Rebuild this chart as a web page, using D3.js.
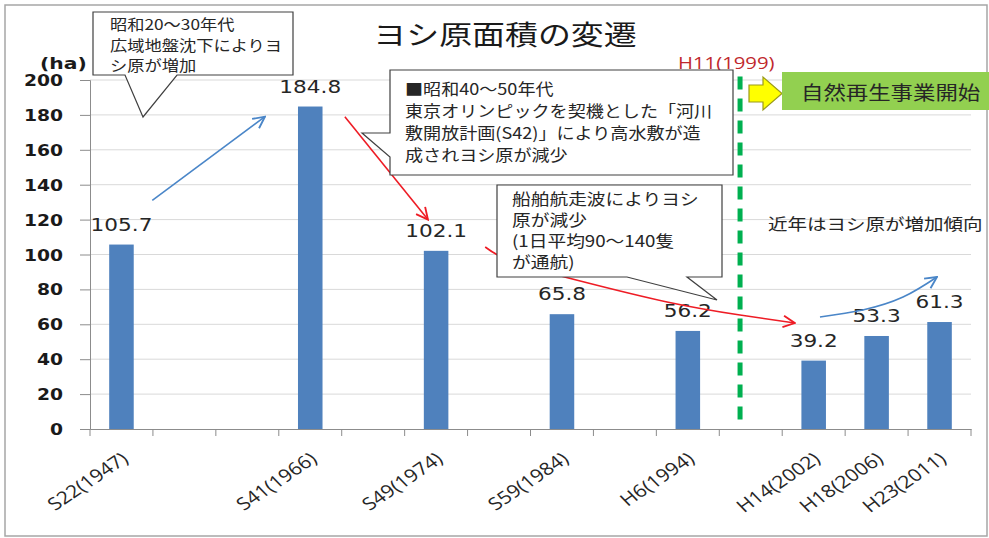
<!DOCTYPE html>
<html>
<head>
<meta charset="utf-8">
<script src="https://cdn.jsdelivr.net/npm/d3@7"></script>
<style>
html,body{margin:0;padding:0;background:#fff;}
svg{display:block;}
</style>
</head>
<body>
<svg id="chart" width="989" height="538"></svg>
<script>
// ---------- data ----------
const categories = ["S22(1947)","gap1","gap2","S41(1966)","gap3","S49(1974)","gap4","S59(1984)","gap5","H6(1994)","gap6","H14(2002)","H18(2006)","H23(2011)"];
const values     = [105.7, null, null, 184.8, null, 102.1, null, 65.8, null, 56.2, null, 39.2, 53.3, 61.3];
const tickLabels = ["S22(1947)","","","S41(1966)","","S49(1974)","","S59(1984)","","H6(1994)","","H14(2002)","H18(2006)","H23(2011)"];
const yTicks     = [0,20,40,60,80,100,120,140,160,180,200];
const titleText  = "ヨシ原面積の変遷";
const unitText   = "(ha)";
const markerLabel = "H11(1999)";
const markerIndex = 9.83;          // fractional category position of H11(1999)
const startText  = "自然再生事業開始";
const trendText  = "近年はヨシ原が増加傾向";
const note1 = ["昭和20～30年代","広域地盤沈下によりヨ","シ原が増加"];
const note2 = ["■昭和40～50年代","東京オリンピックを契機とした「河川","敷開放計画(S42)」により高水敷が造","成されヨシ原が減少"];
const note3 = ["船舶航走波によりヨシ","原が減少","(1日平均90～140隻","が通航)"];
// arrow paths in (category index, value) units
const arrowUp1   = [[0.49,131],[2.28,179]];
const arrowDown1 = [[3.55,179],[4.87,120]];
const arrowDown2 = [[5.78,104.3],[6.22,95.7],[7.29,84.8],[8.67,72.8],[9.83,65.3],[10.70,60.7]];
const arrowUp2   = [[11.10,64.2],[11.78,68.2],[12.42,75.6],[12.96,87.1]];

// ---------- setup ----------
const svg = d3.select("#chart");
const L = 90, R = 971, T = 80, B = 429;
const x = d3.scaleBand().domain(categories).range([L, R]).padding(0);
const xi = d3.scaleLinear().domain([-0.5, categories.length - 0.5]).range([L, R]);
const y = d3.scaleLinear().domain([0, 200]).range([B, T]);
const bw = x.bandwidth();
const barW = bw * 0.39;
const CJK = "'Noto Sans CJK JP','Noto Sans',sans-serif";
const SX = 1.27;

function stext(g, str, px, py, opts) {
  const o = Object.assign({size:16, sx:SX, anchor:"start", family:"'DejaVu Sans',sans-serif", weight:400, fill:"#262626", rotate:0}, opts||{});
  return g.append("text")
    .attr("transform", `translate(${px},${py}) scale(${o.sx},1)` + (o.rotate ? ` rotate(${o.rotate})` : ""))
    .attr("text-anchor", o.anchor)
    .style("font-family", o.family)
    .style("font-size", o.size + "px")
    .style("font-weight", o.weight)
    .attr("fill", o.fill)
    .text(str);
}

// frame
svg.append("rect").attr("x",5).attr("y",5).attr("width",982).attr("height",531)
  .attr("fill","#fff").attr("stroke","#a6a6a6").attr("stroke-width",1.5);

// gridlines
svg.append("g").selectAll("line").data(yTicks.filter(d => d > 0)).join("line")
  .attr("x1", L).attr("x2", R).attr("y1", d => y(d)).attr("y2", d => y(d))
  .attr("stroke", "#d9d9d9").attr("stroke-width", 1);

// bars
const data = categories.map((c, i) => ({c, v: values[i], label: tickLabels[i]}));
svg.append("g").selectAll("rect").data(data.filter(d => d.v != null)).join("rect")
  .attr("x", d => x(d.c) + (bw - barW) / 2)
  .attr("width", barW)
  .attr("y", d => y(d.v))
  .attr("height", d => y(0) - y(d.v))
  .attr("fill", "#4f81bd");

// y axis
const yAxis = svg.append("g").attr("transform", `translate(${L},0)`)
  .call(d3.axisLeft(y).tickValues(yTicks).tickSize(10).tickFormat(""));
yAxis.selectAll("path,line").attr("stroke", "#8c8c8c");
const yLab = svg.append("g");
yTicks.forEach(t => stext(yLab, String(t), 63, y(t) + 6, {size:15, weight:700, anchor:"end", sx:1.25, fill:"#1a1a1a"}));

// x axis
const xAxis = svg.append("g").attr("transform", `translate(0,${B})`)
  .call(d3.axisBottom(x).tickSize(0).tickFormat(""));
xAxis.select("path").attr("stroke", "#8c8c8c");
const bounds = categories.map(c => x(c)).concat([x.range()[1]]);
svg.append("g").selectAll("line").data(bounds).join("line")
  .attr("x1", d => d).attr("x2", d => d).attr("y1", B).attr("y2", B + 7)
  .attr("stroke", "#8c8c8c");
const xLab = svg.append("g");
data.filter(d => d.label).forEach(d => {
  stext(xLab, d.label, x(d.c) + bw / 2 + 8, B + 32, {size:17.5, sx:1.2, rotate:-39, anchor:"end", family:"'Open Sans',sans-serif", fill:"#262626"});
});

// data labels
const dLab = svg.append("g");
data.filter(d => d.v != null).forEach(d => {
  stext(dLab, d.v.toFixed(1), x(d.c) + bw / 2, y(d.v) - 14, {size:17, anchor:"middle", fill:"#262626"});
});

// title & unit
stext(svg, titleText, 505, 45, {size:27, sx:1.22, anchor:"middle", family:CJK, fill:"#1a1a1a"});
stext(svg, unitText, 40, 69, {size:16, weight:700, sx:1.27, fill:"#1a1a1a"});

// H11 dashed line
svg.append("line")
  .attr("x1", xi(markerIndex)).attr("x2", xi(markerIndex))
  .attr("y1", y(202)).attr("y2", y(5))
  .attr("stroke", "#00b050").attr("stroke-width", 5).attr("stroke-dasharray", "13,9");
stext(svg, markerLabel, 678, 69, {size:16, sx:1.27, family:"'Open Sans',sans-serif", fill:"#c0282d"});

// yellow arrow + green box
svg.append("path")
  .attr("d", "M749,85 H763 V77 L782,93.5 L763,110 V102 H749 Z")
  .attr("fill", "#ffff00").attr("stroke", "#9a9a1a").attr("stroke-width", 1.2);
svg.append("rect").attr("x", 782).attr("y", 72).attr("width", 207).attr("height", 38).attr("fill", "#92d050");
stext(svg, startText, 801, 100, {size:19, sx:1.18, family:CJK, fill:"#262626"});

// arrows
const defs = svg.append("defs");
function marker(id, color) {
  defs.append("marker").attr("id", id).attr("viewBox", "0 0 12 12")
    .attr("refX", 11).attr("refY", 6).attr("markerWidth", 14).attr("markerHeight", 14)
    .attr("markerUnits", "userSpaceOnUse").attr("orient", "auto")
    .append("path").attr("d", "M1,1 L11,6 L1,11").attr("fill", "none")
    .attr("stroke", color).attr("stroke-width", 1.6);
}
marker("mBlue", "#4a86c8");
marker("mRed", "#ee1c25");
const lineStraight = d3.line().x(d => xi(d[0])).y(d => y(d[1]));
const lineCurve = d3.line().x(d => xi(d[0])).y(d => y(d[1])).curve(d3.curveNatural);
svg.append("path").attr("d", lineStraight(arrowUp1)).attr("fill","none").attr("stroke","#4a86c8").attr("stroke-width",1.6).attr("marker-end","url(#mBlue)");
svg.append("path").attr("d", lineStraight(arrowDown1)).attr("fill","none").attr("stroke","#ee1c25").attr("stroke-width",1.6).attr("marker-end","url(#mRed)");
svg.append("path").attr("d", lineCurve(arrowDown2)).attr("fill","none").attr("stroke","#ee1c25").attr("stroke-width",1.6).attr("marker-end","url(#mRed)");
svg.append("path").attr("d", lineCurve(arrowUp2)).attr("fill","none").attr("stroke","#4a86c8").attr("stroke-width",1.6).attr("marker-end","url(#mBlue)");

// callouts
function callout(d) {
  svg.append("path").attr("d", d).attr("fill", "#fff").attr("stroke", "#404040").attr("stroke-width", 1.2);
}
callout("M93,12 H293 V75 H177 L143,117 L125,75 H93 Z");
callout("M390,70 H733 V175 H390 V157 L362,133 L390,133 Z");
callout("M497,185 H722 V277 H687 L717,300 L627,277 H497 Z");

const n1 = svg.append("g");
note1.forEach((t, i) => stext(n1, t, 110, 30 + i * 20.5, {size:15, sx:1.15, family:CJK}));
const n2 = svg.append("g");
note2.forEach((t, i) => stext(n2, t, 405, 95 + i * 22, {size:16, sx:1.13, family:CJK}));
const n3 = svg.append("g");
note3.forEach((t, i) => stext(n3, t, 512, 205 + i * 21, {size:16, sx:1.17, family:CJK}));
stext(svg, trendText, 768, 230, {size:16, sx:1.22, family:CJK});
</script>
</body>
</html>
